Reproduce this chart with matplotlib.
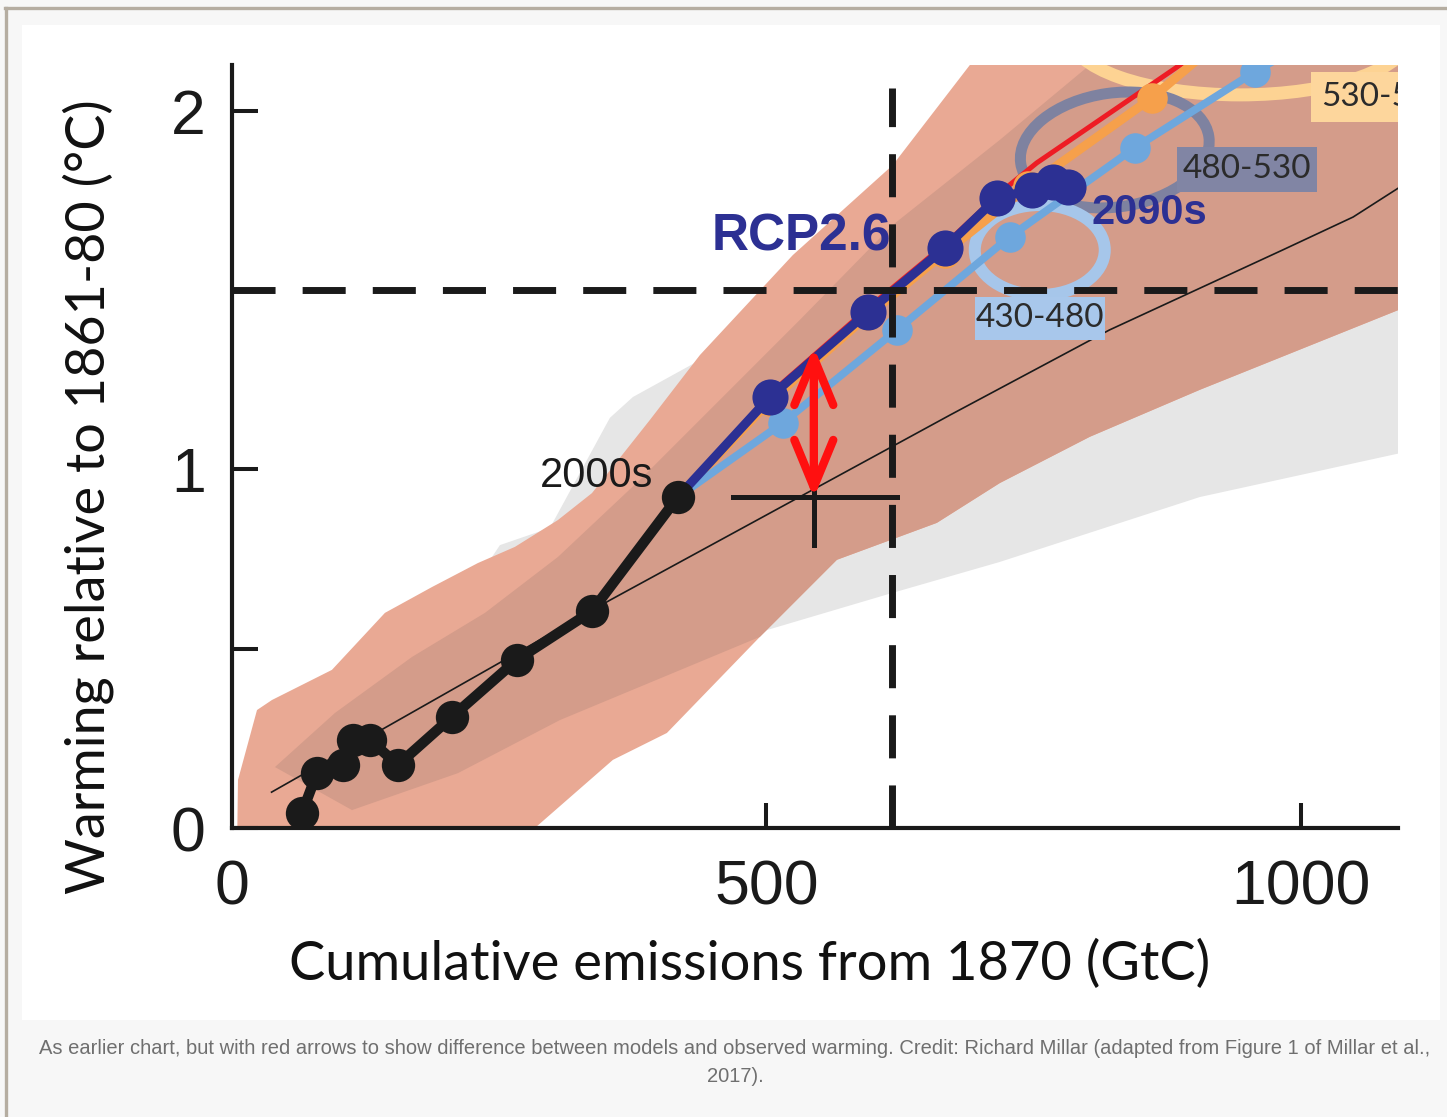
import matplotlib
matplotlib.use("Agg")
import matplotlib.pyplot as plt
from matplotlib.patches import Rectangle, Ellipse, Polygon, FancyArrowPatch
from matplotlib.transforms import ScaledTranslation

# ---------------- data (GtC, degC) ----------------
obs_x = [65.5, 79.5, 103.8, 113.2, 129.1, 155.3, 205.8, 266.6, 336.8, 417.2]
obs_y = [0.042, 0.153, 0.176, 0.245, 0.245, 0.176, 0.310, 0.469, 0.605, 0.923]

fit_x = [37, 354, 672, 821, 983, 1049, 1093]
fit_y = [0.100, 0.636, 1.152, 1.389, 1.612, 1.704, 1.788]

rcp26_x = [417.2, 503.3, 595.0, 667.0, 715.6, 748.4, 768.0, 782.0]
rcp26_y = [0.923, 1.202, 1.439, 1.618, 1.757, 1.780, 1.802, 1.788]

lblue_x = [417.2, 515.4, 622.1, 727.8, 844.7, 957.0, 1010]
lblue_y = [0.923, 1.130, 1.389, 1.649, 1.897, 2.109, 2.20]

orange_x = [417.2, 503, 595, 667, 745, 860.6, 910]
orange_y = [0.923, 1.19, 1.43, 1.605, 1.79, 2.036, 2.16]

red_x = [417.2, 505, 597, 668, 720, 753, 890, 930]
red_y = [0.923, 1.215, 1.455, 1.63, 1.775, 1.855, 2.134, 2.22]

# plumes
sal_x = [5, 5.6, 14.0, 23.4, 37.4, 93.5, 143.1, 187.1, 230.1, 264.7, 305.0, 336.8, 391.0, 437.8,
         524.8, 618.3, 690.4, 750, 1100,
         1100, 905.5, 802.6, 718.4, 659.5, 566.0, 493.9, 406.9, 356.4, 283.4]
sal_y = [0.0, 0.134, 0.226, 0.329, 0.357, 0.441, 0.600, 0.672, 0.739, 0.784, 0.859, 0.934, 1.138, 1.319,
         1.598, 1.849, 2.128, 2.30, 2.30,
         1.455, 1.222, 1.091, 0.962, 0.851, 0.748, 0.533, 0.265, 0.190, 0.0]

dk_x = [40.2, 96.4, 168.4, 236.7, 305.0, 381.7, 456.5, 531.3, 618.3, 718.4, 802.6, 850, 1100,
        1100, 905.5, 802.6, 718.4, 659.5, 566.0, 493.9, 306.8, 211.4, 112.3]
dk_y = [0.170, 0.321, 0.477, 0.600, 0.756, 0.971, 1.194, 1.417, 1.682, 1.919, 2.128, 2.30, 2.30,
        1.455, 1.222, 1.091, 0.962, 0.851, 0.748, 0.533, 0.301, 0.153, 0.050]

gr_x = [16.8, 110.4, 203.9, 250.7, 297.5, 353.6, 375.1, 437.8, 493.9, 618.3, 718.4, 812.0, 1100,
        1100, 905.5, 718.4, 618.3, 500.5, 391.0, 306.8, 269.4]
gr_y = [0.078, 0.357, 0.580, 0.789, 0.837, 1.144, 1.202, 1.305, 1.473, 1.780, 1.975, 2.142, 2.6,
        1.05, 0.923, 0.742, 0.656, 0.552, 0.301, 0.078, 0.0]

# reference lines, observation estimate and arrow
budget_x = 618
target_y = 1.5
est_x, est_xerr = 545.4, 76.7
est_y, est_yerr = 0.923, 0.134
arrow_x, arrow_y0, arrow_y1 = 544.4, 0.920, 1.342

x_ticks = [0, 500, 1000]
x_ticklabels = ["0", "500", "1000"]
y_ticks = [0, 1, 2]
y_ticklabels = ["0", "1", "2"]
y_minor = [0.5]

box_labels = [("430-480", 695, 817, 1.361, 1.481, "#a8c7eb"),
              ("480-530", 884, 1015, 1.774, 1.900, "#8185a4"),
              ("530-580", 1010, 1110, 1.969, 2.109, "#fdd69c")]

W, H = 1447, 1117
fig = plt.figure(figsize=(W / 100, H / 100), dpi=100, facecolor="#f7f7f7")

def fx(px):
    return px / W

def fy(py):
    return 1 - py / H

# frame
fig.patches.append(Rectangle((fx(22), fy(1020)), fx(1440) - fx(22), fy(25) - fy(1020),
                             transform=fig.transFigure, facecolor="white", edgecolor="none", zorder=-5))
fig.add_artist(plt.Line2D([fx(5), 1], [fy(8), fy(8)], transform=fig.transFigure, color="#b5ada1", lw=2.4, zorder=-4))
fig.add_artist(plt.Line2D([fx(6), fx(6)], [0, fy(8)], transform=fig.transFigure, color="#b5ada1", lw=2.4, zorder=-4))

ax = fig.add_axes([fx(232), fy(828), fx(1398) - fx(232), fy(65) - fy(828)])
ax.set_facecolor("none")

# plumes
ax.add_patch(Polygon(list(zip(gr_x, gr_y)), closed=True, facecolor="#e6e6e6", edgecolor="none", zorder=1))
ax.add_patch(Polygon(list(zip(sal_x, sal_y)), closed=True, facecolor="#e9a994", edgecolor="none", zorder=2))
ax.add_patch(Polygon(list(zip(dk_x, dk_y)), closed=True, facecolor="#d49c8a", edgecolor="none", zorder=3))

ax.plot(fit_x, fit_y, color="#1a1a1a", lw=1.2, zorder=4)

# rings
def ring(cx, cy, w_px, h_px, angle, color, lw_px):
    tr = fig.dpi_scale_trans + ScaledTranslation(cx, cy, ax.transData)
    e = Ellipse((0, 0), w_px / 100, h_px / 100, angle=angle, transform=tr,
                fill=False, edgecolor=color, lw=lw_px * 0.72, zorder=5)
    ax.add_patch(e)

ring(943, 2.212, 340, 120, 0, "#fdd393", 13)
ring(826, 1.891, 190, 114, 8, "#7e82a0", 11)
ring(755.8, 1.612, 130, 90, 0, "#a6c6ea", 12)

for txt, x0, x1, y0, y1, col in box_labels:
    ax.add_patch(Rectangle((x0, y0), x1 - x0, y1 - y0, facecolor=col, edgecolor="none", zorder=6))
    if txt == "530-580":
        ax.text(x0 + 9, (y0 + y1) / 2, txt, ha="left", va="center", fontsize=24, family="Lato",
                color="#2b2b2b", zorder=7, clip_on=True)
    else:
        ax.text((x0 + x1) / 2, (y0 + y1) / 2, txt, ha="center", va="center", fontsize=24,
                family="Lato", color="#2b2b2b", zorder=7, clip_on=True)

# scenario lines
ax.plot(red_x, red_y, color="#ee1c24", lw=3.6, zorder=8, solid_capstyle="round")
ax.plot(orange_x, orange_y, color="#f6a04b", lw=6.5, zorder=9)
ax.plot(orange_x[1:-1], orange_y[1:-1], "o", color="#f6a04b", ms=22, mew=0, zorder=9)
ax.plot(lblue_x, lblue_y, color="#6ea7dd", lw=5.5, zorder=10)
ax.plot(lblue_x[1:-1], lblue_y[1:-1], "o", color="#6ea7dd", ms=22, mew=0, zorder=10)
ax.plot(rcp26_x, rcp26_y, color="#2c3093", lw=6.5, zorder=11)
ax.plot(rcp26_x[1:], rcp26_y[1:], "o", color="#2c3093", ms=26, mew=0, zorder=11)

# observations
ax.plot(obs_x, obs_y, color="#1a1a1a", lw=7.5, zorder=12)
ax.plot(obs_x, obs_y, "o", color="#1a1a1a", ms=24, mew=0, zorder=12)

# dashed lines
dash = (0, (6.2, 3.9))
ax.plot([0, 1091], [target_y, target_y], color="#1a1a1a", lw=5, linestyle=dash, zorder=13)
ax.plot([budget_x, budget_x], [0, 2.064], color="#1a1a1a", lw=5, linestyle=dash, zorder=13)

# observational estimate cross
ax.plot([est_x - est_xerr, est_x + est_xerr], [est_y, est_y], color="#1a1a1a", lw=3.6, zorder=14)
ax.plot([arrow_x, arrow_x], [est_y - est_yerr, est_y + est_yerr], color="#1a1a1a", lw=3.6, zorder=14)

arr = FancyArrowPatch((arrow_x, arrow_y0), (arrow_x, arrow_y1),
                      arrowstyle="<->,head_length=34,head_width=14", mutation_scale=1,
                      color="#ff1010", lw=6, shrinkA=0, shrinkB=0, zorder=15,
                      capstyle="round", joinstyle="round")
ax.add_patch(arr)

# text labels
ax.text(533.2, 1.649, "RCP2.6", ha="center", va="center", fontsize=37, fontweight="bold",
        family="Liberation Sans", color="#2c3093", zorder=16)
ax.text(858.7, 1.715, "2090s", ha="center", va="center", fontsize=30, fontweight="bold",
        family="Liberation Sans", color="#2c3093", zorder=16)
ax.text(341.4, 0.982, "2000s", ha="center", va="center", fontsize=30,
        family="Liberation Sans", color="#1a1a1a", zorder=16)

ax.set_xlim(0, 1091)
ax.set_ylim(0, 2.128)

# axes styling
for s in ["top", "right"]:
    ax.spines[s].set_visible(False)
for s in ["left", "bottom"]:
    ax.spines[s].set_linewidth(3)
    ax.spines[s].set_color("#1a1a1a")
    ax.spines[s].set_zorder(30)
ax.xaxis.set_zorder(30)
ax.yaxis.set_zorder(30)

ax.set_xticks(x_ticks)
ax.set_xticklabels(x_ticklabels)
ax.set_yticks(y_ticks)
ax.set_yticklabels(y_ticklabels)
ax.set_yticks(y_minor, minor=True)
ax.tick_params(axis="both", which="both", direction="in", width=2.9, color="#1a1a1a",
               labelsize=45, labelcolor="#1a1a1a")
ax.tick_params(axis="y", which="both", length=18.7, pad=19)
ax.tick_params(axis="x", which="both", length=18, pad=22)
for lab in ax.get_xticklabels() + ax.get_yticklabels():
    lab.set_family("Liberation Sans")
ax.xaxis.get_major_ticks()[0].tick1line.set_visible(False)

# axis titles
ylab = fig.text(fx(88), fy(497), "Warming relative to 1861-80 (°C)", rotation=90,
                ha="center", va="center", fontsize=38, family="Lato", color="#111111")
xlab = fig.text(fx(750), fy(980), "Cumulative emissions from 1870 (GtC)",
                ha="center", va="baseline", fontsize=40, family="Lato", color="#111111")

cap1 = fig.text(fx(735), fy(1049),
                "As earlier chart, but with red arrows to show difference between models and observed "
                "warming. Credit: Richard Millar (adapted from Figure 1 of Millar et al.,",
                ha="center", va="center", fontsize=13, family="Liberation Sans", color="#6f6f6f")
cap2 = fig.text(fx(735), fy(1077), "2017).", ha="center", va="center", fontsize=13,
                family="Liberation Sans", color="#6f6f6f")

r = fig.canvas.get_renderer()
def fit(t, target, horiz=True):
    bb = t.get_window_extent(r)
    size = bb.width if horiz else bb.height
    t.set_fontsize(t.get_fontsize() * target / size)

fit(ylab, 795, horiz=False)
fit(xlab, 920)
fit(cap1, 1383)
cap2.set_fontsize(cap1.get_fontsize())

fig.savefig("out.png", dpi=100, facecolor=fig.get_facecolor())
